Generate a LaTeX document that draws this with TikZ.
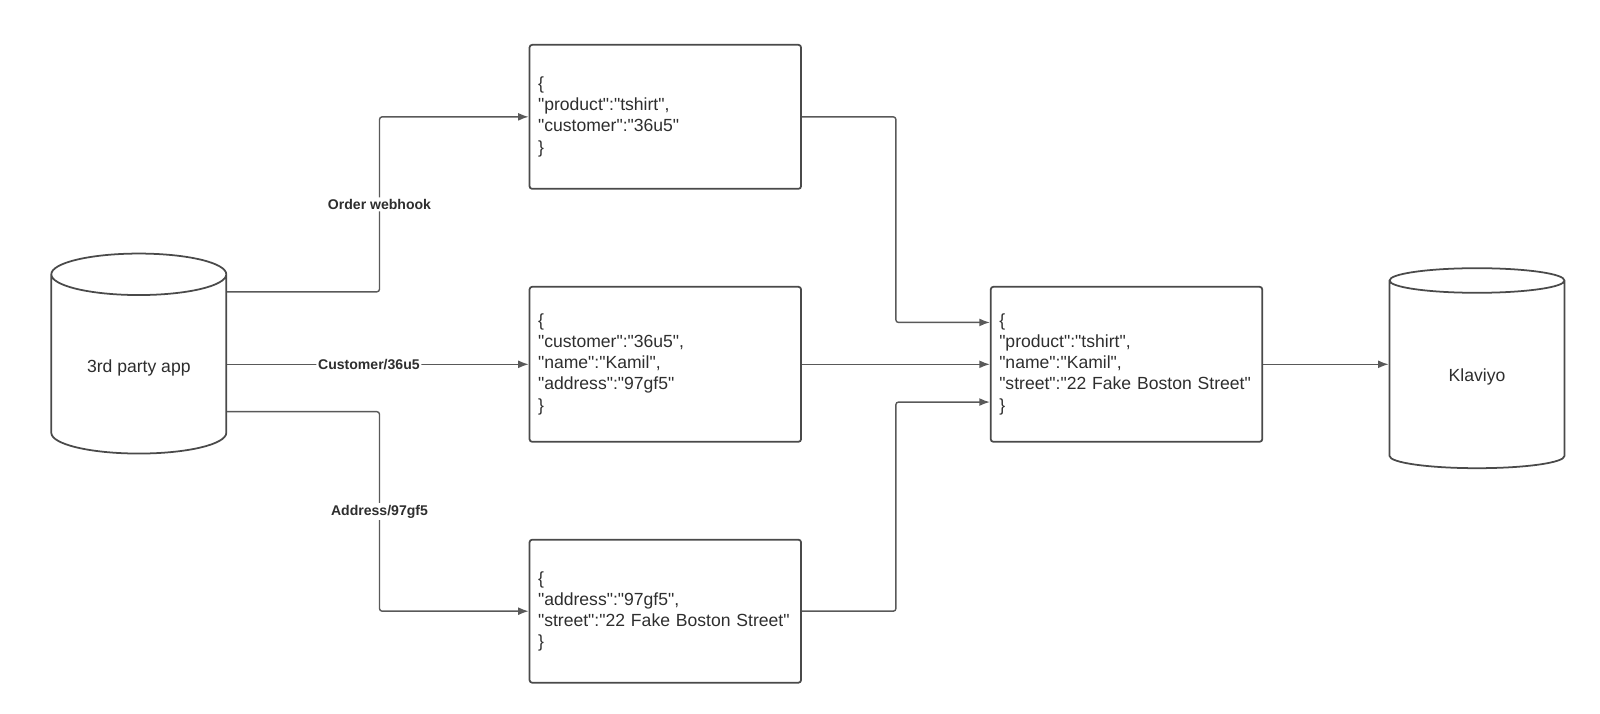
\documentclass[tikz,border=0pt]{standalone}
\usepackage{fontspec}
\setmainfont{Liberation Sans}[Ligatures=TeXOff]
\usetikzlibrary{shapes.geometric,arrows.meta}

\definecolor{boxgray}{HTML}{4A4A4A}
\definecolor{linegray}{HTML}{595959}
\definecolor{inkgray}{HTML}{2E2E2E}

\begin{document}
\begin{tikzpicture}[
            json/.style={draw=boxgray, line width=1pt, rounded corners=1.5pt, text=inkgray,
                minimum width=5.43cm, text width=5.09cm, inner xsep=0.17cm, align=left,
                font=\fontsize{10}{12}\selectfont},
            store/.style={cylinder, shape border rotate=90, aspect=0.36, draw=boxgray,
                line width=1pt, fill=white, text=inkgray, minimum width=3.5cm,
                minimum height=4cm, font=\fontsize{10}{12}\selectfont},
            flow/.style={draw=linegray, line width=0.8pt, rounded corners=1.5pt,
                -{Latex[length=6pt,width=4.5pt]}},
            tag/.style={fill=white, inner sep=1pt, text=inkgray,
                font=\bfseries\fontsize{8}{9}\selectfont},
            ]
            \useasboundingbox (0, 0) rectangle (32, -14.265);

            \node[store] (app) at (2.776, -7.362) {3rd party app};
            \node[json, minimum height=2.88cm] (order) at (13.306, -2.337)
                {\{\\"product":"tshirt",\\"customer":"36u5"\\\}};
            \node[json, minimum height=3.1cm] (cust) at (13.306, -7.286)
                {\{\\"customer":"36u5",\\"name":"Kamil",\\"address":"97gf5"\\\}};
            \node[json, minimum height=2.86cm] (addr) at (13.306, -12.224)
                {\{\\"address":"97gf5",\\"street":"22 Fake Boston Street"\\\}};
            \node[json, minimum height=3.1cm] (merged) at (22.53, -7.286)
                {\{\\"product":"tshirt",\\"name":"Kamil",\\"street":"22 Fake Boston Street"\\\}};
            \node[store] (klaviyo) at (29.54, -7.54) {Klaviyo};

            % trunks of the elbow connectors
            \coordinate (split) at (7.59, -7.286);
            \coordinate (join) at (17.918, -7.286);
            \coordinate (appTop) at ([yshift=1.525cm]app.east);
            \coordinate (appLow) at ([yshift=-0.871cm]app.east);
            \coordinate (mergeTop) at ([yshift=0.837cm]merged.west);
            \coordinate (mergeLow) at ([yshift=-0.755cm]merged.west);

            \draw[flow] (appTop) -- (appTop -| split)
                -- node[tag] {Order webhook} (split |- order.west) -- (order.west);
            \draw[flow] (app.east |- cust.west) -- node[tag, pos=0.47] {Customer/36u5} (cust.west);
            \draw[flow] (appLow) -- (appLow -| split)
                -- node[tag] {Address/97gf5} (split |- addr.west) -- (addr.west);

            \draw[flow] (order.east) -- (order.east -| join) -- (join |- mergeTop) -- (mergeTop);
            \draw[flow] (cust.east) -- (merged.west);
            \draw[flow] (addr.east) -- (addr.east -| join) -- (join |- mergeLow) -- (mergeLow);
            \draw[flow] (merged.east) -- (merged.east -| klaviyo.west);
        \end{tikzpicture}
\end{document}
